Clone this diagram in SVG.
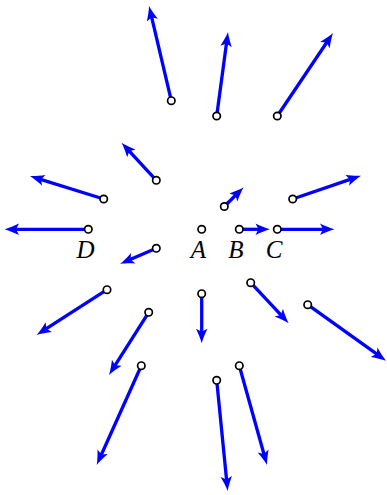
<svg xmlns="http://www.w3.org/2000/svg" width="387" height="495" viewBox="0 0 387 495">
<style>
.v{stroke:#0000ff;stroke-width:3.3;fill:none;stroke-linecap:butt;marker-end:url(#ah)}
.p{fill:#fff;stroke:#000;stroke-width:1.7}
.l{font-family:"Liberation Serif","Times New Roman",serif;font-style:italic;font-size:25px;fill:#000;text-anchor:middle}
</style>
<defs>
<marker id="ah" markerUnits="userSpaceOnUse" viewBox="0 0 15 12" markerWidth="15" markerHeight="12" refX="9" refY="6" orient="auto">
<path d="M15,6 C11,5 5,2.5 0.5,0.3 L3.5,6 L0.5,11.7 C5,9.5 11,7 15,6 Z" fill="#0000ff"/>
</marker>
</defs>
<rect width="387" height="495" fill="#fff"/>
<g id="connectors">
<line class="v" x1="171.3" y1="100.7" x2="150.4" y2="11.8"/>
<line class="v" x1="216.7" y1="116" x2="227.2" y2="38"/>
<line class="v" x1="277.3" y1="116" x2="329.7" y2="38"/>
<line class="v" x1="156.3" y1="180.3" x2="125.6" y2="147.1"/>
<line class="v" x1="103.7" y1="199" x2="35.7" y2="177.8"/>
<line class="v" x1="88.3" y1="229.3" x2="10.5" y2="229.3"/>
<line class="v" x1="239.3" y1="229.3" x2="264" y2="229.3"/>
<line class="v" x1="277.3" y1="229.3" x2="328.5" y2="229.3"/>
<line class="v" x1="224.3" y1="206.5" x2="239.4" y2="191.5"/>
<line class="v" x1="292.7" y1="199" x2="355.3" y2="177.6"/>
<line class="v" x1="156.3" y1="248.3" x2="125.5" y2="261.6"/>
<line class="v" x1="107" y1="289.7" x2="41.7" y2="331.7"/>
<line class="v" x1="201.7" y1="293.7" x2="201.7" y2="337.3"/>
<line class="v" x1="250.7" y1="282.7" x2="284.6" y2="318.9"/>
<line class="v" x1="307.7" y1="304.7" x2="381.1" y2="357.2"/>
<line class="v" x1="148.7" y1="312.3" x2="112.2" y2="369.9"/>
<line class="v" x1="141.3" y1="365.7" x2="99.2" y2="459.5"/>
<line class="v" x1="216.7" y1="380.3" x2="227.1" y2="485"/>
<line class="v" x1="239.3" y1="365.7" x2="265.4" y2="459.2"/>
</g>
<g id="p1"><circle class="p" cx="171.3" cy="100.7" r="3.7"/></g>
<g id="p2"><circle class="p" cx="216.7" cy="116" r="3.7"/></g>
<g id="p3"><circle class="p" cx="277.3" cy="116" r="3.7"/></g>
<g id="p4"><circle class="p" cx="156.3" cy="180.3" r="3.7"/></g>
<g id="p5"><circle class="p" cx="103.7" cy="199" r="3.7"/></g>
<g id="D"><circle class="p" cx="88.3" cy="229.3" r="3.7"/><text class="l" x="85.5" y="257.5">D</text></g>
<g id="A"><circle class="p" cx="201.7" cy="229.3" r="3.7"/><text class="l" x="198.5" y="257.5">A</text></g>
<g id="B"><circle class="p" cx="239.3" cy="229.3" r="3.7"/><text class="l" x="236" y="257.5">B</text></g>
<g id="C"><circle class="p" cx="277.3" cy="229.3" r="3.7"/><text class="l" x="274" y="257.5">C</text></g>
<g id="p6"><circle class="p" cx="224.3" cy="206.5" r="3.7"/></g>
<g id="p7"><circle class="p" cx="292.7" cy="199" r="3.7"/></g>
<g id="p8"><circle class="p" cx="156.3" cy="248.3" r="3.7"/></g>
<g id="p9"><circle class="p" cx="107" cy="289.7" r="3.7"/></g>
<g id="p10"><circle class="p" cx="201.7" cy="293.7" r="3.7"/></g>
<g id="p11"><circle class="p" cx="250.7" cy="282.7" r="3.7"/></g>
<g id="p12"><circle class="p" cx="307.7" cy="304.7" r="3.7"/></g>
<g id="p13"><circle class="p" cx="148.7" cy="312.3" r="3.7"/></g>
<g id="p14"><circle class="p" cx="141.3" cy="365.7" r="3.7"/></g>
<g id="p15"><circle class="p" cx="216.7" cy="380.3" r="3.7"/></g>
<g id="p16"><circle class="p" cx="239.3" cy="365.7" r="3.7"/></g>
</svg>
